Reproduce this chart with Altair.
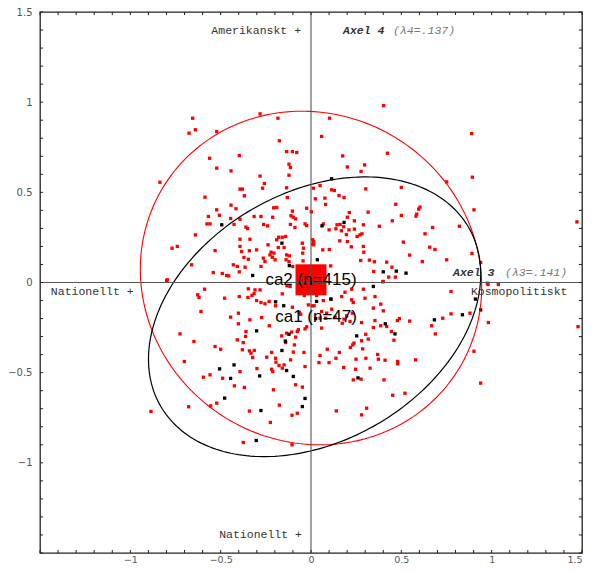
import altair as alt
import pandas as pd
import numpy as np

# ---------------- data ----------------
red_x = [-0.655,-0.675,-0.64,-0.522,-0.282,-0.183,-0.836,-0.561,-0.522,-0.443,-0.397,-0.175,-0.135,-0.103,-0.079,-0.122,-0.114,-0.122,-0.282,-0.258,-0.268,-0.135,-0.131,-0.393,-0.380,-0.369,-0.587,-0.522,-0.507,-0.443,-0.415,-0.568,-0.576,-0.559,-0.445,-0.426,-0.393,-0.360,-0.351,-0.315,-0.277,-0.262,-0.240,-0.212,-0.207,-0.190,-0.103,-0.111,-0.098,-0.085,-0.024,-0.033,-0.024,-0.114,-0.089,-0.159,-0.179,-0.140,-0.190,-0.393,-0.338,-0.393,-0.384,-0.341,-0.301,-0.238,-0.221,-0.205,-0.227,-0.214,-0.181,-0.149,-0.135,-0.120,-0.138,-0.122,-0.048,-0.042,-0.046,0.009,0.009,-0.264,-0.255,-0.277,-0.347,-0.371,-0.430,-0.408,-0.397,-0.365,-0.640,-0.769,-0.740,-0.531,-0.661,-0.541,-0.491,-0.467,-0.456,-0.795,-0.199,-0.101,-0.044,
 0.402,0.103,0.059,0.175,0.423,0.297,0.201,0.277,0.889,0.893,0.751,0.013,0.050,0.114,0.129,0.303,0.500,0.024,0.077,0.155,0.183,0.081,0.212,0.201,0.002,0.316,0.240,0.290,0.144,0.161,0.181,0.100,0.138,0.168,0.210,0.240,0.378,0.450,0.500,0.469,0.585,0.581,0.603,0.596,0.821,0.673,0.631,0.902,0.015,0.015,0.065,0.101,0.159,0.201,0.223,0.255,0.271,0.282,0.290,0.292,0.275,0.323,0.351,0.419,0.448,0.511,0.546,0.616,0.657,0.686,0.751,0.891,0.939,0.109,0.347,0.467,0.430,0.397,0.976,0.196,0.068,
 -0.799,-0.589,-0.627,-0.620,-0.478,-0.397,-0.347,-0.310,-0.315,-0.282,-0.327,-0.349,-0.301,-0.277,-0.255,-0.232,-0.196,-0.159,-0.133,-0.116,-0.103,-0.065,-0.057,-0.037,-0.015,0.007,-0.609,-0.445,-0.402,-0.402,-0.338,-0.273,-0.231,-0.360,-0.362,-0.408,-0.375,-0.725,-0.648,-0.531,-0.500,-0.380,-0.341,-0.332,-0.314,-0.323,-0.245,-0.218,-0.196,-0.194,-0.162,-0.140,-0.135,-0.107,-0.085,-0.076,-0.070,-0.033,-0.024,-0.092,-0.098,-0.113,-0.039,-0.033,-0.159,-0.149,-0.177,-0.218,-0.212,-0.299,-0.393,-0.701,-0.596,-0.559,-0.489,-0.424,-0.369,-0.208,-0.085,-0.048,-0.886,-0.677,-0.555,-0.522,-0.341,-0.175,-0.105,-0.076,-0.225,-0.375,-0.105,
 0.031,0.068,0.109,0.170,0.188,0.225,0.225,0.290,0.299,0.354,0.386,0.400,0.345,0.234,0.229,0.216,0.197,0.173,0.114,0.087,0.059,0.017,0.050,0.081,0.133,0.183,0.280,0.354,0.386,0.345,0.419,0.478,0.489,0.546,0.445,0.459,0.317,0.303,0.280,0.238,0.231,0.218,0.286,0.090,0.157,0.050,0.044,0.100,0.138,0.181,0.249,0.247,0.304,0.327,0.373,0.369,0.410,0.480,0.480,0.579,0.234,0.277,0.404,0.452,0.520,0.140,0.308,0.280,0.775,0.729,0.775,0.880,0.668,0.688,0.982,0.902,0.939,0.980,1.037,0.059,0.068,0.400,
 1.472,1.478]
red_y = [0.911,0.828,0.847,0.837,0.935,0.911,0.556,0.689,0.634,0.619,0.704,0.786,0.726,0.726,0.721,0.656,0.638,0.595,0.590,0.549,0.523,0.525,0.471,0.518,0.518,0.481,0.473,0.403,0.373,0.429,0.409,0.366,0.325,0.325,0.355,0.322,0.351,0.307,0.299,0.366,0.366,0.322,0.314,0.362,0.414,0.416,0.396,0.370,0.362,0.353,0.412,0.325,0.316,0.322,0.305,0.251,0.251,0.255,0.237,0.240,0.240,0.200,0.172,0.176,0.181,0.209,0.168,0.163,0.153,0.140,0.194,0.194,0.153,0.148,0.126,0.116,0.218,0.190,0.163,0.237,0.213,0.135,0.116,0.089,0.129,0.139,0.098,0.089,0.059,0.085,0.264,0.190,0.200,0.177,0.098,0.055,0.050,0.039,0.037,0.015,0.126,0.089,0.120,
 0.981,0.911,0.810,0.702,0.717,0.652,0.641,0.616,0.826,0.584,0.558,0.523,0.538,0.514,0.510,0.519,0.527,0.464,0.468,0.482,0.471,0.433,0.388,0.362,0.392,0.390,0.342,0.320,0.320,0.322,0.309,0.292,0.298,0.287,0.292,0.296,0.312,0.342,0.372,0.434,0.379,0.368,0.418,0.407,0.312,0.305,0.270,0.403,0.227,0.209,0.181,0.183,0.231,0.227,0.198,0.255,0.264,0.270,0.200,0.168,0.122,0.124,0.115,0.113,0.085,0.224,0.152,0.116,0.196,0.183,0.126,0.161,0.111,0.092,0.061,0.030,0.030,0.004,-0.004,0.266,0.325,
 0.011,-0.037,-0.068,-0.083,-0.087,-0.078,-0.035,-0.041,-0.061,-0.041,-0.072,-0.083,-0.100,-0.111,-0.118,-0.105,-0.129,-0.063,-0.018,-0.022,-0.137,-0.165,-0.176,-0.072,-0.124,-0.129,-0.161,-0.192,-0.170,-0.229,-0.207,-0.194,-0.240,-0.272,-0.299,-0.318,-0.333,-0.285,-0.327,-0.355,-0.370,-0.373,-0.379,-0.392,-0.377,-0.416,-0.414,-0.388,-0.420,-0.442,-0.296,-0.333,-0.281,-0.275,-0.303,-0.272,-0.262,-0.257,-0.246,-0.346,-0.386,-0.429,-0.388,-0.466,-0.475,-0.457,-0.460,-0.481,-0.494,-0.477,-0.494,-0.438,-0.525,-0.512,-0.531,-0.573,-0.582,-0.595,-0.567,-0.580,-0.715,-0.689,-0.684,-0.669,-0.713,-0.680,-0.736,-0.725,-0.776,-0.887,-0.900,
 -0.072,-0.100,-0.092,-0.078,-0.054,-0.037,-0.096,-0.037,-0.087,-0.078,-0.120,-0.157,-0.142,-0.111,-0.170,-0.216,-0.185,-0.226,-0.148,-0.170,-0.161,-0.129,-0.198,-0.198,-0.192,-0.203,-0.222,-0.211,-0.240,-0.250,-0.244,-0.211,-0.200,-0.214,-0.272,-0.320,-0.314,-0.287,-0.323,-0.336,-0.346,-0.360,-0.368,-0.370,-0.388,-0.405,-0.444,-0.444,-0.420,-0.471,-0.425,-0.481,-0.420,-0.475,-0.425,-0.399,-0.431,-0.438,-0.451,-0.429,-0.540,-0.536,-0.540,-0.625,-0.614,-0.712,-0.697,-0.734,-0.050,-0.198,-0.174,-0.170,-0.240,-0.285,-0.222,-0.381,-0.558,-0.011,-0.011,-0.253,0.011,0.006,
 0.336,-0.245]

black_x = [-0.494,-0.161,-0.120,-0.323,0.114,0.061,0.183,0.400,0.472,0.526,0.035,-0.196,-0.151,-0.122,-0.301,-0.142,-0.161,-0.506,-0.426,-0.445,-0.284,-0.135,-0.098,-0.478,-0.277,-0.033,-0.048,-0.303,0.345,0.031,0.111,0.026,0.253,0.411,0.465,0.260,0.683,0.838,0.910,0.939]
black_y = [0.320,0.218,0.094,0.039,0.575,0.314,0.333,0.059,0.063,0.052,0.126,-0.107,-0.129,-0.287,-0.268,-0.325,-0.377,-0.479,-0.457,-0.532,-0.518,-0.488,-0.521,-0.641,-0.710,-0.643,-0.688,-0.876,-0.022,-0.105,-0.092,-0.200,-0.296,-0.229,-0.285,-0.529,-0.207,-0.179,-0.092,-0.152]

ca_labels = ["ca2 (n=415)", "ca1 (n=47)"]
ca_x = [0.0, 0.028]
ca_y = [0.015, -0.19]

# concentration ellipses: centre, semi-axes, rotation (degrees)
red_ellipse = (0.0, 0.025, 0.961, 0.908, 146.0)
black_ellipse = (0.02, -0.19, 0.986, 0.689, 30.3)

x_label_values = [-1, -0.5, 0, 0.5, 1, 1.5]
y_label_values = [1.5, 1, 0.5, 0, -0.5, -1]
minor_ticks = [round(-1.5 + 0.1 * i, 1) for i in range(31)]

# ---------------- build ----------------
xs = alt.Scale(domain=[-1.5, 1.5], nice=False, zero=False)
ys = alt.Scale(domain=[-1.5, 1.5], nice=False, zero=False)


def X(f, **kw):
    return alt.X(f, scale=xs, title=None, **kw)


def Y(f, **kw):
    return alt.Y(f, scale=ys, title=None, **kw)


def ellipse_df(p):
    cx, cy, a, b, ang = p
    th = np.deg2rad(ang)
    t = np.linspace(0, 2 * np.pi, 241)
    return pd.DataFrame({
        "x": cx + a * np.cos(t) * np.cos(th) - b * np.sin(t) * np.sin(th),
        "y": cy + a * np.cos(t) * np.sin(th) + b * np.sin(t) * np.cos(th),
        "i": np.arange(len(t)),
    })


red_df = pd.DataFrame({"x": red_x, "y": red_y})
black_df = pd.DataFrame({"x": black_x, "y": black_y})

red_pts = alt.Chart(red_df).mark_square(size=11, color="#ff0000", opacity=1).encode(
    x=X("x:Q", axis=alt.Axis(values=x_label_values, format="~g", labelPadding=1, labelFontSize=9.5)),
    y=Y("y:Q", axis=alt.Axis(values=y_label_values, format="~g", labelPadding=8)),
)
black_pts = alt.Chart(black_df).mark_square(size=11, color="#000000", opacity=1).encode(
    x=X("x:Q"), y=Y("y:Q")
)


def ell_layer(p, color, w):
    return alt.Chart(ellipse_df(p)).mark_line(color=color, strokeWidth=w).encode(
        x=X("x:Q"), y=Y("y:Q"), order="i:Q",
    )


red_ell = ell_layer(red_ellipse, "#ff0000", 1.1)
black_ell = ell_layer(black_ellipse, "#000000", 1.2)

ca_df = pd.DataFrame({"x": ca_x, "y": ca_y, "label": ca_labels})
centroid = alt.Chart(ca_df.iloc[[0]]).mark_square(size=961, color="#ff0000", opacity=1).encode(
    x=X("x:Q"), y=Y("y:Q")
)

cross_v = alt.Chart(pd.DataFrame({"x": [0.0]})).mark_rule(color="#555", strokeWidth=1.1).encode(
    x=X("x:Q")
)
cross_h = alt.Chart(pd.DataFrame({"y": [0.0]})).mark_rule(color="#555", strokeWidth=1.1).encode(
    y=Y("y:Q")
)

tl = 0.017
tk = pd.DataFrame({"t": minor_ticks})
tk["lo"] = -1.5
tk["lo2"] = -1.5 + tl
tk["hi"] = 1.5
tk["hi2"] = 1.5 - tl
tick_layers = [
    alt.Chart(tk).mark_rule(color="#222", strokeWidth=1).encode(x=X("t:Q"), y=Y("lo:Q"), y2="lo2:Q"),
    alt.Chart(tk).mark_rule(color="#222", strokeWidth=1).encode(x=X("t:Q"), y=Y("hi:Q"), y2="hi2:Q"),
    alt.Chart(tk).mark_rule(color="#222", strokeWidth=1).encode(y=Y("t:Q"), x=X("lo:Q"), x2="lo2:Q"),
    alt.Chart(tk).mark_rule(color="#222", strokeWidth=1).encode(y=Y("t:Q"), x=X("hi:Q"), x2="hi2:Q"),
]


def txt(text, x, y, align="left", size=11.5, color="#333", style="normal", weight="normal",
        font="Liberation Mono"):
    return alt.Chart(pd.DataFrame({"x": [x], "y": [y], "t": [text]})).mark_text(
        align=align, baseline="middle", fontSize=size, color=color, font=font,
        fontStyle=style, fontWeight=weight,
    ).encode(x=X("x:Q"), y=Y("y:Q"), text="t:N")


texts = [
    txt("Amerikanskt +", -0.055, 1.395, align="right"),
    txt("Axel 4", 0.177, 1.395, style="italic", weight="bold"),
    txt("(λ4=.137)", 0.454, 1.395, color="#777", style="italic"),
    txt("Axel 3", 0.786, 0.054, style="italic", weight="bold"),
    txt("(λ3=.141)", 1.074, 0.054, color="#777", style="italic"),
    txt("Kosmopolitiskt", 0.885, -0.05),
    txt("Nationellt +", -1.44, -0.05),
    txt("Nationellt +", -0.05, -1.40, align="right"),
]

ca_text = alt.Chart(ca_df).mark_text(
    align="center", baseline="middle", fontSize=17, color="#000", font="Liberation Sans"
).encode(x=X("x:Q"), y=Y("y:Q"), text="label:N")

chart = alt.layer(
    red_pts, black_pts, red_ell, black_ell, centroid, cross_v, cross_h,
    *tick_layers, *texts, ca_text,
).properties(
    width=542, height=541,
    autosize=alt.AutoSizeParams(type="none"),
    padding={"left": 32, "top": 4, "right": 7, "bottom": 11},
).configure_view(
    stroke="#222", strokeWidth=1.3
).configure_axis(
    grid=False, domain=False, ticks=False, labelFont="DejaVu Sans", labelFontSize=10,
    labelColor="#555",
)

chart.save("out.html", embed_options={"renderer": "svg", "actions": False})
